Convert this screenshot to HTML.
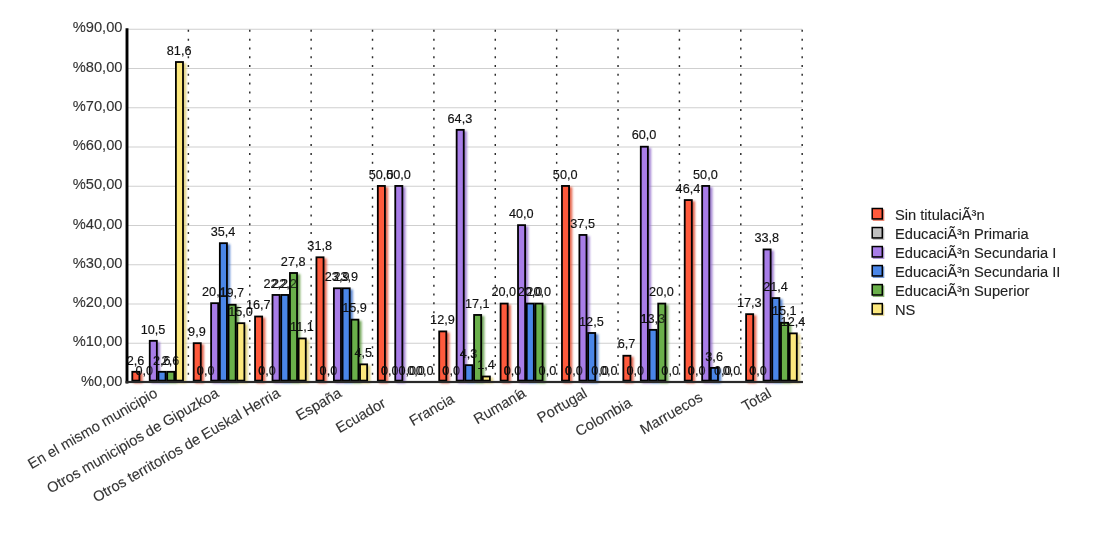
<!DOCTYPE html>
<html><head><meta charset="utf-8"><title>chart</title>
<style>
html,body{margin:0;padding:0;background:#fff;}
body{width:1100px;height:550px;overflow:hidden;}
svg{display:block;}
text{font-family:"Liberation Sans",sans-serif;}
.yt{font-size:14.667px;fill:#333;stroke:#333;stroke-width:0.12px;}
.xt{font-size:14.667px;fill:#333;stroke:#333;stroke-width:0.12px;}
.pl{font-size:12.7px;fill:#111;stroke:#111;stroke-width:0.15px;}
.lg{font-size:14.667px;fill:#222;stroke:#222;stroke-width:0.12px;}
</style></head><body>
<svg width="1100" height="550" viewBox="0 0 1100 550">
<defs><filter id="b" x="-5%" y="-5%" width="110%" height="110%"><feGaussianBlur stdDeviation="0.9"/></filter><filter id="b2" x="-30%" y="-30%" width="160%" height="160%"><feGaussianBlur stdDeviation="0.5"/></filter></defs>
<rect width="1100" height="550" fill="#fff"/>
<line x1="127.00" x2="802.18" y1="382.50" y2="382.50" stroke="#cfcfcf" stroke-width="1"/>
<line x1="127.00" x2="802.18" y1="343.25" y2="343.25" stroke="#cfcfcf" stroke-width="1"/>
<line x1="127.00" x2="802.18" y1="304.00" y2="304.00" stroke="#cfcfcf" stroke-width="1"/>
<line x1="127.00" x2="802.18" y1="264.75" y2="264.75" stroke="#cfcfcf" stroke-width="1"/>
<line x1="127.00" x2="802.18" y1="225.50" y2="225.50" stroke="#cfcfcf" stroke-width="1"/>
<line x1="127.00" x2="802.18" y1="186.25" y2="186.25" stroke="#cfcfcf" stroke-width="1"/>
<line x1="127.00" x2="802.18" y1="147.00" y2="147.00" stroke="#cfcfcf" stroke-width="1"/>
<line x1="127.00" x2="802.18" y1="107.75" y2="107.75" stroke="#cfcfcf" stroke-width="1"/>
<line x1="127.00" x2="802.18" y1="68.50" y2="68.50" stroke="#cfcfcf" stroke-width="1"/>
<line x1="127.00" x2="802.18" y1="29.25" y2="29.25" stroke="#cfcfcf" stroke-width="1"/>
<line x1="188.38" x2="188.38" y1="29.85" y2="382.50" stroke="#2a2a2a" stroke-width="1.45" stroke-dasharray="2 6.79"/>
<line x1="249.76" x2="249.76" y1="29.85" y2="382.50" stroke="#2a2a2a" stroke-width="1.45" stroke-dasharray="2 6.79"/>
<line x1="311.14" x2="311.14" y1="29.85" y2="382.50" stroke="#2a2a2a" stroke-width="1.45" stroke-dasharray="2 6.79"/>
<line x1="372.52" x2="372.52" y1="29.85" y2="382.50" stroke="#2a2a2a" stroke-width="1.45" stroke-dasharray="2 6.79"/>
<line x1="433.90" x2="433.90" y1="29.85" y2="382.50" stroke="#2a2a2a" stroke-width="1.45" stroke-dasharray="2 6.79"/>
<line x1="495.28" x2="495.28" y1="29.85" y2="382.50" stroke="#2a2a2a" stroke-width="1.45" stroke-dasharray="2 6.79"/>
<line x1="556.66" x2="556.66" y1="29.85" y2="382.50" stroke="#2a2a2a" stroke-width="1.45" stroke-dasharray="2 6.79"/>
<line x1="618.04" x2="618.04" y1="29.85" y2="382.50" stroke="#2a2a2a" stroke-width="1.45" stroke-dasharray="2 6.79"/>
<line x1="679.42" x2="679.42" y1="29.85" y2="382.50" stroke="#2a2a2a" stroke-width="1.45" stroke-dasharray="2 6.79"/>
<line x1="740.80" x2="740.80" y1="29.85" y2="382.50" stroke="#2a2a2a" stroke-width="1.45" stroke-dasharray="2 6.79"/>
<line x1="802.18" x2="802.18" y1="29.85" y2="382.50" stroke="#2a2a2a" stroke-width="1.45" stroke-dasharray="2 6.79"/>
<text x="122.5" y="385.70" text-anchor="end" class="yt">%0,00</text>
<text x="122.5" y="346.45" text-anchor="end" class="yt">%10,00</text>
<text x="122.5" y="307.20" text-anchor="end" class="yt">%20,00</text>
<text x="122.5" y="267.95" text-anchor="end" class="yt">%30,00</text>
<text x="122.5" y="228.70" text-anchor="end" class="yt">%40,00</text>
<text x="122.5" y="189.45" text-anchor="end" class="yt">%50,00</text>
<text x="122.5" y="150.20" text-anchor="end" class="yt">%60,00</text>
<text x="122.5" y="110.95" text-anchor="end" class="yt">%70,00</text>
<text x="122.5" y="71.70" text-anchor="end" class="yt">%80,00</text>
<text x="122.5" y="32.45" text-anchor="end" class="yt">%90,00</text>
<g filter="url(#b)" opacity="0.85" fill="rgb(224,79,52)">
<rect x="133.70" y="372.90" width="8.90" height="10.30"/>
<rect x="195.08" y="344.28" width="8.90" height="38.92"/>
<rect x="256.46" y="317.61" width="8.90" height="65.59"/>
<rect x="317.84" y="258.40" width="8.90" height="124.80"/>
<rect x="379.22" y="187.03" width="8.90" height="196.17"/>
<rect x="440.60" y="332.51" width="8.90" height="50.69"/>
<rect x="501.98" y="304.67" width="8.90" height="78.53"/>
<rect x="563.36" y="187.03" width="8.90" height="196.17"/>
<rect x="624.74" y="356.83" width="8.90" height="26.37"/>
<rect x="686.12" y="201.14" width="8.90" height="182.06"/>
<rect x="747.50" y="315.26" width="8.90" height="67.94"/>
</g>
<rect x="132.30" y="371.80" width="7.10" height="8.80" fill="rgb(255,90,60)" stroke="#000" stroke-width="1.80"/>
<rect x="193.68" y="343.18" width="7.10" height="37.42" fill="rgb(255,90,60)" stroke="#000" stroke-width="1.80"/>
<rect x="255.06" y="316.51" width="7.10" height="64.09" fill="rgb(255,90,60)" stroke="#000" stroke-width="1.80"/>
<rect x="316.44" y="257.30" width="7.10" height="123.30" fill="rgb(255,90,60)" stroke="#000" stroke-width="1.80"/>
<rect x="377.82" y="185.93" width="7.10" height="194.68" fill="rgb(255,90,60)" stroke="#000" stroke-width="1.80"/>
<rect x="439.20" y="331.41" width="7.10" height="49.19" fill="rgb(255,90,60)" stroke="#000" stroke-width="1.80"/>
<rect x="500.58" y="303.57" width="7.10" height="77.03" fill="rgb(255,90,60)" stroke="#000" stroke-width="1.80"/>
<rect x="561.96" y="185.93" width="7.10" height="194.68" fill="rgb(255,90,60)" stroke="#000" stroke-width="1.80"/>
<rect x="623.34" y="355.73" width="7.10" height="24.87" fill="rgb(255,90,60)" stroke="#000" stroke-width="1.80"/>
<rect x="684.72" y="200.04" width="7.10" height="180.56" fill="rgb(255,90,60)" stroke="#000" stroke-width="1.80"/>
<rect x="746.10" y="314.16" width="7.10" height="66.44" fill="rgb(255,90,60)" stroke="#000" stroke-width="1.80"/>
<text x="135.55" y="364.50" text-anchor="middle" class="pl">2,6</text>
<text x="196.93" y="335.88" text-anchor="middle" class="pl">9,9</text>
<text x="258.31" y="309.21" text-anchor="middle" class="pl">16,7</text>
<text x="319.69" y="250.00" text-anchor="middle" class="pl">31,8</text>
<text x="381.07" y="178.62" text-anchor="middle" class="pl">50,0</text>
<text x="442.45" y="324.11" text-anchor="middle" class="pl">12,9</text>
<text x="503.83" y="296.27" text-anchor="middle" class="pl">20,0</text>
<text x="565.21" y="178.62" text-anchor="middle" class="pl">50,0</text>
<text x="626.59" y="348.43" text-anchor="middle" class="pl">6,7</text>
<text x="687.97" y="192.74" text-anchor="middle" class="pl">46,4</text>
<text x="749.35" y="306.86" text-anchor="middle" class="pl">17,3</text>
<g filter="url(#b)" opacity="0.85" fill="rgb(168,168,168)">
</g>
<text x="144.27" y="374.70" text-anchor="middle" class="pl">0,0</text>
<text x="205.65" y="374.70" text-anchor="middle" class="pl">0,0</text>
<text x="267.03" y="374.70" text-anchor="middle" class="pl">0,0</text>
<text x="328.41" y="374.70" text-anchor="middle" class="pl">0,0</text>
<text x="389.79" y="374.70" text-anchor="middle" class="pl">0,0</text>
<text x="451.17" y="374.70" text-anchor="middle" class="pl">0,0</text>
<text x="512.55" y="374.70" text-anchor="middle" class="pl">0,0</text>
<text x="573.93" y="374.70" text-anchor="middle" class="pl">0,0</text>
<text x="635.31" y="374.70" text-anchor="middle" class="pl">0,0</text>
<text x="696.69" y="374.70" text-anchor="middle" class="pl">0,0</text>
<text x="758.07" y="374.70" text-anchor="middle" class="pl">0,0</text>
<g filter="url(#b)" opacity="0.85" fill="rgb(147,110,204)">
<rect x="151.14" y="341.92" width="8.90" height="41.28"/>
<rect x="212.52" y="304.28" width="8.90" height="78.92"/>
<rect x="273.90" y="296.04" width="8.90" height="87.16"/>
<rect x="335.28" y="289.38" width="8.90" height="93.82"/>
<rect x="396.66" y="187.03" width="8.90" height="196.17"/>
<rect x="458.04" y="130.95" width="8.90" height="252.25"/>
<rect x="519.42" y="226.24" width="8.90" height="156.96"/>
<rect x="580.80" y="236.04" width="8.90" height="147.16"/>
<rect x="642.18" y="147.81" width="8.90" height="235.39"/>
<rect x="703.56" y="187.03" width="8.90" height="196.17"/>
<rect x="764.94" y="250.55" width="8.90" height="132.65"/>
</g>
<rect x="149.74" y="340.82" width="7.10" height="39.78" fill="rgb(168,125,232)" stroke="#000" stroke-width="1.80"/>
<rect x="211.12" y="303.18" width="7.10" height="77.42" fill="rgb(168,125,232)" stroke="#000" stroke-width="1.80"/>
<rect x="272.50" y="294.94" width="7.10" height="85.66" fill="rgb(168,125,232)" stroke="#000" stroke-width="1.80"/>
<rect x="333.88" y="288.28" width="7.10" height="92.32" fill="rgb(168,125,232)" stroke="#000" stroke-width="1.80"/>
<rect x="395.26" y="185.93" width="7.10" height="194.68" fill="rgb(168,125,232)" stroke="#000" stroke-width="1.80"/>
<rect x="456.64" y="129.85" width="7.10" height="250.75" fill="rgb(168,125,232)" stroke="#000" stroke-width="1.80"/>
<rect x="518.02" y="225.14" width="7.10" height="155.46" fill="rgb(168,125,232)" stroke="#000" stroke-width="1.80"/>
<rect x="579.40" y="234.94" width="7.10" height="145.66" fill="rgb(168,125,232)" stroke="#000" stroke-width="1.80"/>
<rect x="640.78" y="146.71" width="7.10" height="233.89" fill="rgb(168,125,232)" stroke="#000" stroke-width="1.80"/>
<rect x="702.16" y="185.93" width="7.10" height="194.68" fill="rgb(168,125,232)" stroke="#000" stroke-width="1.80"/>
<rect x="763.54" y="249.45" width="7.10" height="131.15" fill="rgb(168,125,232)" stroke="#000" stroke-width="1.80"/>
<text x="152.99" y="333.52" text-anchor="middle" class="pl">10,5</text>
<text x="214.37" y="295.88" text-anchor="middle" class="pl">20,1</text>
<text x="275.75" y="287.64" text-anchor="middle" class="pl">22,2</text>
<text x="337.13" y="280.98" text-anchor="middle" class="pl">23,9</text>
<text x="398.51" y="178.62" text-anchor="middle" class="pl">50,0</text>
<text x="459.89" y="122.55" text-anchor="middle" class="pl">64,3</text>
<text x="521.27" y="217.84" text-anchor="middle" class="pl">40,0</text>
<text x="582.65" y="227.64" text-anchor="middle" class="pl">37,5</text>
<text x="644.03" y="139.41" text-anchor="middle" class="pl">60,0</text>
<text x="705.41" y="178.62" text-anchor="middle" class="pl">50,0</text>
<text x="766.79" y="242.15" text-anchor="middle" class="pl">33,8</text>
<g filter="url(#b)" opacity="0.85" fill="rgb(65,117,204)">
<rect x="159.86" y="372.90" width="8.90" height="10.30"/>
<rect x="221.24" y="244.28" width="8.90" height="138.92"/>
<rect x="282.62" y="296.04" width="8.90" height="87.16"/>
<rect x="344.00" y="289.38" width="8.90" height="93.82"/>
<rect x="466.76" y="366.24" width="8.90" height="16.96"/>
<rect x="528.14" y="304.67" width="8.90" height="78.53"/>
<rect x="589.52" y="334.08" width="8.90" height="49.12"/>
<rect x="650.90" y="330.94" width="8.90" height="52.26"/>
<rect x="712.28" y="368.98" width="8.90" height="14.22"/>
<rect x="773.66" y="299.18" width="8.90" height="84.02"/>
</g>
<rect x="158.46" y="371.80" width="7.10" height="8.80" fill="rgb(74,134,232)" stroke="#000" stroke-width="1.80"/>
<rect x="219.84" y="243.18" width="7.10" height="137.42" fill="rgb(74,134,232)" stroke="#000" stroke-width="1.80"/>
<rect x="281.22" y="294.94" width="7.10" height="85.66" fill="rgb(74,134,232)" stroke="#000" stroke-width="1.80"/>
<rect x="342.60" y="288.28" width="7.10" height="92.32" fill="rgb(74,134,232)" stroke="#000" stroke-width="1.80"/>
<rect x="465.36" y="365.14" width="7.10" height="15.46" fill="rgb(74,134,232)" stroke="#000" stroke-width="1.80"/>
<rect x="526.74" y="303.57" width="7.10" height="77.03" fill="rgb(74,134,232)" stroke="#000" stroke-width="1.80"/>
<rect x="588.12" y="332.98" width="7.10" height="47.62" fill="rgb(74,134,232)" stroke="#000" stroke-width="1.80"/>
<rect x="649.50" y="329.84" width="7.10" height="50.76" fill="rgb(74,134,232)" stroke="#000" stroke-width="1.80"/>
<rect x="710.88" y="367.88" width="7.10" height="12.72" fill="rgb(74,134,232)" stroke="#000" stroke-width="1.80"/>
<rect x="772.26" y="298.08" width="7.10" height="82.52" fill="rgb(74,134,232)" stroke="#000" stroke-width="1.80"/>
<text x="161.71" y="364.50" text-anchor="middle" class="pl">2,6</text>
<text x="223.09" y="235.88" text-anchor="middle" class="pl">35,4</text>
<text x="284.47" y="287.64" text-anchor="middle" class="pl">22,2</text>
<text x="345.85" y="280.98" text-anchor="middle" class="pl">23,9</text>
<text x="407.23" y="374.70" text-anchor="middle" class="pl">0,0</text>
<text x="468.61" y="357.84" text-anchor="middle" class="pl">4,3</text>
<text x="529.99" y="296.27" text-anchor="middle" class="pl">20,0</text>
<text x="591.37" y="325.68" text-anchor="middle" class="pl">12,5</text>
<text x="652.75" y="322.54" text-anchor="middle" class="pl">13,3</text>
<text x="714.13" y="360.58" text-anchor="middle" class="pl">3,6</text>
<text x="775.51" y="290.78" text-anchor="middle" class="pl">21,4</text>
<g filter="url(#b)" opacity="0.85" fill="rgb(93,154,65)">
<rect x="168.58" y="372.90" width="8.90" height="10.30"/>
<rect x="229.96" y="305.85" width="8.90" height="77.35"/>
<rect x="291.34" y="274.08" width="8.90" height="109.12"/>
<rect x="352.72" y="320.75" width="8.90" height="62.45"/>
<rect x="475.48" y="316.04" width="8.90" height="67.16"/>
<rect x="536.86" y="304.67" width="8.90" height="78.53"/>
<rect x="659.62" y="304.67" width="8.90" height="78.53"/>
<rect x="782.38" y="323.89" width="8.90" height="59.31"/>
</g>
<rect x="167.18" y="371.80" width="7.10" height="8.80" fill="rgb(106,176,74)" stroke="#000" stroke-width="1.80"/>
<rect x="228.56" y="304.75" width="7.10" height="75.85" fill="rgb(106,176,74)" stroke="#000" stroke-width="1.80"/>
<rect x="289.94" y="272.98" width="7.10" height="107.62" fill="rgb(106,176,74)" stroke="#000" stroke-width="1.80"/>
<rect x="351.32" y="319.65" width="7.10" height="60.95" fill="rgb(106,176,74)" stroke="#000" stroke-width="1.80"/>
<rect x="474.08" y="314.94" width="7.10" height="65.66" fill="rgb(106,176,74)" stroke="#000" stroke-width="1.80"/>
<rect x="535.46" y="303.57" width="7.10" height="77.03" fill="rgb(106,176,74)" stroke="#000" stroke-width="1.80"/>
<rect x="658.22" y="303.57" width="7.10" height="77.03" fill="rgb(106,176,74)" stroke="#000" stroke-width="1.80"/>
<rect x="780.98" y="322.79" width="7.10" height="57.81" fill="rgb(106,176,74)" stroke="#000" stroke-width="1.80"/>
<text x="170.43" y="364.50" text-anchor="middle" class="pl">2,6</text>
<text x="231.81" y="297.45" text-anchor="middle" class="pl">19,7</text>
<text x="293.19" y="265.68" text-anchor="middle" class="pl">27,8</text>
<text x="354.57" y="312.35" text-anchor="middle" class="pl">15,9</text>
<text x="415.95" y="374.70" text-anchor="middle" class="pl">0,0</text>
<text x="477.33" y="307.64" text-anchor="middle" class="pl">17,1</text>
<text x="538.71" y="296.27" text-anchor="middle" class="pl">20,0</text>
<text x="600.09" y="374.70" text-anchor="middle" class="pl">0,0</text>
<text x="661.47" y="296.27" text-anchor="middle" class="pl">20,0</text>
<text x="722.85" y="374.70" text-anchor="middle" class="pl">0,0</text>
<text x="784.23" y="315.49" text-anchor="middle" class="pl">15,1</text>
<g filter="url(#b)" opacity="0.85" fill="rgb(221,204,110)">
<rect x="177.30" y="63.11" width="8.90" height="320.09"/>
<rect x="238.68" y="324.28" width="8.90" height="58.92"/>
<rect x="300.06" y="339.57" width="8.90" height="43.63"/>
<rect x="361.44" y="365.45" width="8.90" height="17.75"/>
<rect x="484.20" y="377.61" width="8.90" height="5.59"/>
<rect x="791.10" y="334.47" width="8.90" height="48.73"/>
</g>
<rect x="175.90" y="62.01" width="7.10" height="318.59" fill="rgb(252,232,125)" stroke="#000" stroke-width="1.80"/>
<rect x="237.28" y="323.18" width="7.10" height="57.42" fill="rgb(252,232,125)" stroke="#000" stroke-width="1.80"/>
<rect x="298.66" y="338.47" width="7.10" height="42.13" fill="rgb(252,232,125)" stroke="#000" stroke-width="1.80"/>
<rect x="360.04" y="364.35" width="7.10" height="16.25" fill="rgb(252,232,125)" stroke="#000" stroke-width="1.80"/>
<rect x="482.80" y="376.51" width="7.10" height="4.09" fill="rgb(252,232,125)" stroke="#000" stroke-width="1.80"/>
<rect x="789.70" y="333.37" width="7.10" height="47.23" fill="rgb(252,232,125)" stroke="#000" stroke-width="1.80"/>
<text x="179.15" y="54.71" text-anchor="middle" class="pl">81,6</text>
<text x="240.53" y="315.88" text-anchor="middle" class="pl">15,0</text>
<text x="301.91" y="331.17" text-anchor="middle" class="pl">11,1</text>
<text x="363.29" y="357.05" text-anchor="middle" class="pl">4,5</text>
<text x="424.67" y="374.70" text-anchor="middle" class="pl">0,0</text>
<text x="486.05" y="369.21" text-anchor="middle" class="pl">1,4</text>
<text x="547.43" y="374.70" text-anchor="middle" class="pl">0,0</text>
<text x="608.81" y="374.70" text-anchor="middle" class="pl">0,0</text>
<text x="670.19" y="374.70" text-anchor="middle" class="pl">0,0</text>
<text x="731.57" y="374.70" text-anchor="middle" class="pl">0,0</text>
<text x="792.95" y="326.07" text-anchor="middle" class="pl">12,4</text>
<clipPath id="bc"><rect x="132.30" y="371.80" width="7.10" height="8.80"/><rect x="193.68" y="343.18" width="7.10" height="37.42"/><rect x="255.06" y="316.51" width="7.10" height="64.09"/><rect x="316.44" y="257.30" width="7.10" height="123.30"/><rect x="377.82" y="185.93" width="7.10" height="194.68"/><rect x="439.20" y="331.41" width="7.10" height="49.19"/><rect x="500.58" y="303.57" width="7.10" height="77.03"/><rect x="561.96" y="185.93" width="7.10" height="194.68"/><rect x="623.34" y="355.73" width="7.10" height="24.87"/><rect x="684.72" y="200.04" width="7.10" height="180.56"/><rect x="746.10" y="314.16" width="7.10" height="66.44"/><rect x="149.74" y="340.82" width="7.10" height="39.78"/><rect x="211.12" y="303.18" width="7.10" height="77.42"/><rect x="272.50" y="294.94" width="7.10" height="85.66"/><rect x="333.88" y="288.28" width="7.10" height="92.32"/><rect x="395.26" y="185.93" width="7.10" height="194.68"/><rect x="456.64" y="129.85" width="7.10" height="250.75"/><rect x="518.02" y="225.14" width="7.10" height="155.46"/><rect x="579.40" y="234.94" width="7.10" height="145.66"/><rect x="640.78" y="146.71" width="7.10" height="233.89"/><rect x="702.16" y="185.93" width="7.10" height="194.68"/><rect x="763.54" y="249.45" width="7.10" height="131.15"/><rect x="158.46" y="371.80" width="7.10" height="8.80"/><rect x="219.84" y="243.18" width="7.10" height="137.42"/><rect x="281.22" y="294.94" width="7.10" height="85.66"/><rect x="342.60" y="288.28" width="7.10" height="92.32"/><rect x="465.36" y="365.14" width="7.10" height="15.46"/><rect x="526.74" y="303.57" width="7.10" height="77.03"/><rect x="588.12" y="332.98" width="7.10" height="47.62"/><rect x="649.50" y="329.84" width="7.10" height="50.76"/><rect x="710.88" y="367.88" width="7.10" height="12.72"/><rect x="772.26" y="298.08" width="7.10" height="82.52"/><rect x="167.18" y="371.80" width="7.10" height="8.80"/><rect x="228.56" y="304.75" width="7.10" height="75.85"/><rect x="289.94" y="272.98" width="7.10" height="107.62"/><rect x="351.32" y="319.65" width="7.10" height="60.95"/><rect x="474.08" y="314.94" width="7.10" height="65.66"/><rect x="535.46" y="303.57" width="7.10" height="77.03"/><rect x="658.22" y="303.57" width="7.10" height="77.03"/><rect x="780.98" y="322.79" width="7.10" height="57.81"/><rect x="175.90" y="62.01" width="7.10" height="318.59"/><rect x="237.28" y="323.18" width="7.10" height="57.42"/><rect x="298.66" y="338.47" width="7.10" height="42.13"/><rect x="360.04" y="364.35" width="7.10" height="16.25"/><rect x="482.80" y="376.51" width="7.10" height="4.09"/><rect x="789.70" y="333.37" width="7.10" height="47.23"/></clipPath>
<g clip-path="url(#bc)" opacity="0.8"><text x="144.27" y="374.70" text-anchor="middle" class="pl">0,0</text><text x="205.65" y="374.70" text-anchor="middle" class="pl">0,0</text><text x="267.03" y="374.70" text-anchor="middle" class="pl">0,0</text><text x="328.41" y="374.70" text-anchor="middle" class="pl">0,0</text><text x="389.79" y="374.70" text-anchor="middle" class="pl">0,0</text><text x="451.17" y="374.70" text-anchor="middle" class="pl">0,0</text><text x="512.55" y="374.70" text-anchor="middle" class="pl">0,0</text><text x="573.93" y="374.70" text-anchor="middle" class="pl">0,0</text><text x="635.31" y="374.70" text-anchor="middle" class="pl">0,0</text><text x="696.69" y="374.70" text-anchor="middle" class="pl">0,0</text><text x="758.07" y="374.70" text-anchor="middle" class="pl">0,0</text><text x="214.37" y="295.88" text-anchor="middle" class="pl">20,1</text><text x="284.47" y="287.64" text-anchor="middle" class="pl">22,2</text><text x="468.61" y="357.84" text-anchor="middle" class="pl">4,3</text><text x="652.75" y="322.54" text-anchor="middle" class="pl">13,3</text><text x="170.43" y="364.50" text-anchor="middle" class="pl">2,6</text></g>
<rect x="125.55" y="28.25" width="2.9" height="355.25" fill="#000"/>
<rect x="125.55" y="380.90" width="677.43" height="2.2" fill="#2a2a2a"/>
<text transform="translate(158.49 396.00) rotate(-30)" text-anchor="end" class="xt">En el mismo municipio</text>
<text transform="translate(219.87 396.00) rotate(-30)" text-anchor="end" class="xt">Otros municipios de Gipuzkoa</text>
<text transform="translate(281.25 396.00) rotate(-30)" text-anchor="end" class="xt">Otros territorios de Euskal Herria</text>
<text transform="translate(342.63 396.00) rotate(-30)" text-anchor="end" class="xt">España</text>
<text transform="translate(386.69 406.00) rotate(-30)" text-anchor="end" class="xt">Ecuador</text>
<text transform="translate(455.34 401.80) rotate(-30)" text-anchor="end" class="xt">Francia</text>
<text transform="translate(526.77 396.00) rotate(-30)" text-anchor="end" class="xt">Rumaní<tspan dx="-2.3">a</tspan></text>
<text transform="translate(588.15 396.00) rotate(-30)" text-anchor="end" class="xt">Portugal</text>
<text transform="translate(632.73 405.70) rotate(-30)" text-anchor="end" class="xt">Colombia</text>
<text transform="translate(703.72 400.15) rotate(-30)" text-anchor="end" class="xt">Marruecos</text>
<text transform="translate(772.29 396.00) rotate(-30)" text-anchor="end" class="xt">Total</text>
<rect x="872.75" y="209.35" width="11.6" height="11.6" fill="rgb(224,79,52)" opacity="0.7" filter="url(#b2)"/>
<rect x="872.2" y="208.50" width="10.1" height="10.4" fill="rgb(255,90,60)" stroke="#000" stroke-width="1.5"/>
<text x="895.0" y="219.50" class="lg">Sin titulaciÃ³n</text>
<rect x="872.75" y="228.37" width="11.6" height="11.6" fill="rgb(168,168,168)" opacity="0.7" filter="url(#b2)"/>
<rect x="872.2" y="227.52" width="10.1" height="10.4" fill="rgb(192,192,192)" stroke="#000" stroke-width="1.5"/>
<text x="895.0" y="238.52" class="lg">EducaciÃ³n Primaria</text>
<rect x="872.75" y="247.39" width="11.6" height="11.6" fill="rgb(147,110,204)" opacity="0.7" filter="url(#b2)"/>
<rect x="872.2" y="246.54" width="10.1" height="10.4" fill="rgb(168,125,232)" stroke="#000" stroke-width="1.5"/>
<text x="895.0" y="257.54" class="lg">EducaciÃ³n Secundaria I</text>
<rect x="872.75" y="266.41" width="11.6" height="11.6" fill="rgb(65,117,204)" opacity="0.7" filter="url(#b2)"/>
<rect x="872.2" y="265.56" width="10.1" height="10.4" fill="rgb(74,134,232)" stroke="#000" stroke-width="1.5"/>
<text x="895.0" y="276.56" class="lg">EducaciÃ³n Secundaria II</text>
<rect x="872.75" y="285.43" width="11.6" height="11.6" fill="rgb(93,154,65)" opacity="0.7" filter="url(#b2)"/>
<rect x="872.2" y="284.58" width="10.1" height="10.4" fill="rgb(106,176,74)" stroke="#000" stroke-width="1.5"/>
<text x="895.0" y="295.58" class="lg">EducaciÃ³n Superior</text>
<rect x="872.75" y="304.45" width="11.6" height="11.6" fill="rgb(221,204,110)" opacity="0.7" filter="url(#b2)"/>
<rect x="872.2" y="303.60" width="10.1" height="10.4" fill="rgb(252,232,125)" stroke="#000" stroke-width="1.5"/>
<text x="895.0" y="314.60" class="lg">NS</text>
</svg>
</body></html>
